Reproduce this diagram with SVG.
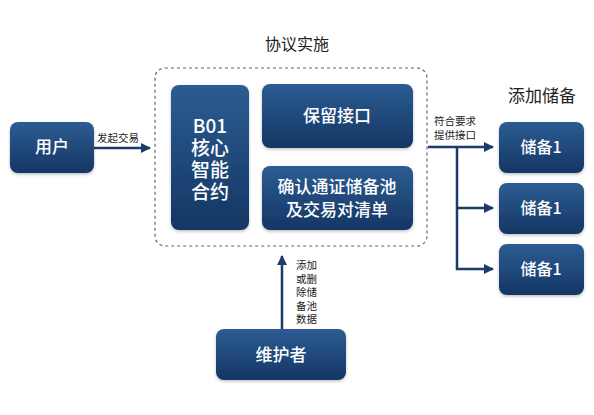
<svg xmlns="http://www.w3.org/2000/svg" width="594" height="415" viewBox="0 0 594 415">
<defs>
<linearGradient id="g" x1="0" y1="0" x2="0" y2="1">
<stop offset="0" stop-color="#2d5c92"/>
<stop offset="1" stop-color="#143664"/>
</linearGradient>
<marker id="ah" viewBox="0 0 10 10" refX="9" refY="5" markerWidth="4" markerHeight="4" orient="auto" markerUnits="strokeWidth">
<path d="M0,0 L10,5 L0,10 z" fill="#1b3b6a"/>
</marker>
<filter id="sh" x="-10%" y="-10%" width="120%" height="130%">
<feDropShadow dx="0" dy="1.5" stdDeviation="1.5" flood-color="#000" flood-opacity="0.25"/>
</filter>
</defs>
<style>
.box{fill:url(#g);filter:url(#sh)}
.t{font-family:"Noto Sans CJK SC","Noto Sans",sans-serif;fill:#fff;text-anchor:middle;font-weight:500}
.h{font-family:"Noto Sans CJK SC","Noto Sans",sans-serif;fill:#222;text-anchor:middle}
.l{font-family:"Noto Sans CJK SC","Noto Sans",sans-serif;fill:#222;font-size:10.5px}
.c{fill:none;stroke:#1b3b6a;stroke-width:2.5}
</style>
<rect width="594" height="415" fill="#fff"/>
<text class="h" x="297" y="50" font-size="16">协议实施</text>
<text class="h" x="542" y="102" font-size="17">添加储备</text>
<rect x="155" y="68" width="272" height="178" rx="10" fill="none" stroke="#666" stroke-width="1.2" stroke-dasharray="3,3"/>
<g id="user"><rect class="box" x="10" y="122" width="84" height="51" rx="8"/><text class="t" x="52" y="153" font-size="17">用户</text></g>
<g id="b01"><rect class="box" x="171" y="85" width="78" height="145" rx="8"/>
<text class="t" x="210" y="133" font-size="19"><tspan x="210">B01</tspan><tspan x="210" dy="22">核心</tspan><tspan x="210" dy="22">智能</tspan><tspan x="210" dy="22">合约</tspan></text></g>
<g id="keep"><rect class="box" x="262" y="84" width="151" height="64" rx="8"/><text class="t" x="337" y="122" font-size="17">保留接口</text></g>
<g id="confirm"><rect class="box" x="262" y="166" width="151" height="64" rx="8"/>
<text class="t" x="337" y="193" font-size="17"><tspan x="337">确认通证储备池</tspan><tspan x="337" dy="23">及交易对清单</tspan></text></g>
<g id="r1"><rect class="box" x="499" y="122" width="85" height="51" rx="8"/><text class="t" x="541" y="153" font-size="16">储备1</text></g>
<g id="r2"><rect class="box" x="499" y="183" width="85" height="51" rx="8"/><text class="t" x="541" y="214" font-size="16">储备1</text></g>
<g id="r3"><rect class="box" x="499" y="244" width="85" height="51" rx="8"/><text class="t" x="541" y="275" font-size="16">储备1</text></g>
<g id="maint"><rect class="box" x="216" y="329" width="130" height="51" rx="8"/><text class="t" x="281" y="361" font-size="17">维护者</text></g>
<g id="connectors">
<line class="c" x1="94" y1="148" x2="150" y2="148" marker-end="url(#ah)"/>
<text class="l" x="97" y="142">发起交易</text>
<line class="c" x1="428" y1="147" x2="493" y2="147" marker-end="url(#ah)"/>
<text class="l" x="434" y="125" font-size="10"><tspan x="434">符合要求</tspan><tspan x="434" dy="14">提供接口</tspan></text>
<polyline class="c" points="457,147 457,269 493,269" marker-end="url(#ah)"/>
<line class="c" x1="457" y1="208" x2="493" y2="208" marker-end="url(#ah)"/>
<line class="c" x1="282" y1="329" x2="282" y2="256" marker-end="url(#ah)"/>
<text class="l" x="296" y="269"><tspan x="296">添加</tspan><tspan x="296" dy="13.5">或删</tspan><tspan x="296" dy="13.5">除储</tspan><tspan x="296" dy="13.5">备池</tspan><tspan x="296" dy="13.5">数据</tspan></text>
</g>
</svg>
